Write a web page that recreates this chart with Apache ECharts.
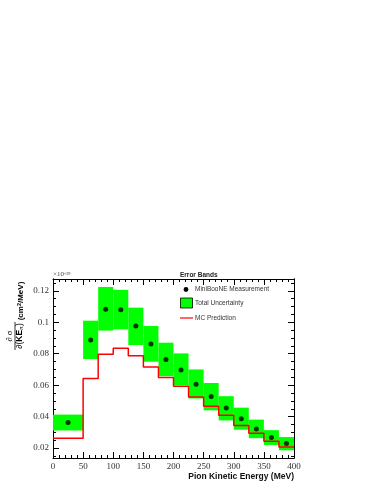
<!DOCTYPE html>
<html>
<head>
<meta charset="utf-8">
<script src="https://cdn.jsdelivr.net/npm/echarts@6/dist/echarts.min.js"></script>
<style>
  html, body { margin: 0; padding: 0; background: #fff; }
  #chart { width: 383px; height: 495px; }
</style>
</head>
<body>
<div id="chart"></div>
<script>
// bin edges (MeV) and values in units of 1e-39 cm^2/MeV
var binEdges = [0, 50, 75, 100, 125, 150, 175, 200, 225, 250, 275, 300, 325, 350, 375, 400];
var measured = [0.0363, 0.0887, 0.1083, 0.1080, 0.0976, 0.0862, 0.0764, 0.0697, 0.0606, 0.0528, 0.0455, 0.0387, 0.0321, 0.0268, 0.0229];
var errTop = [0.0413, 0.1010, 0.1224, 0.1206, 0.1093, 0.0976, 0.0870, 0.0802, 0.0700, 0.0614, 0.0530, 0.0457, 0.0381, 0.0314, 0.0270];
var errBottom = [0.0312, 0.0766, 0.0947, 0.0955, 0.0855, 0.0749, 0.0657, 0.0600, 0.0515, 0.0440, 0.0376, 0.0317, 0.0263, 0.0220, 0.0186];
var mcPrediction = [0.0263, 0.0642, 0.0796, 0.0834, 0.0787, 0.0715, 0.0649, 0.0593, 0.0525, 0.0466, 0.0408, 0.0344, 0.0295, 0.0244, 0.0207];

// tick values for the y axis
var yTickValues = [0.02, 0.04, 0.06, 0.08, 0.1, 0.12];
var yMinorValues = [0.015, 0.025, 0.03, 0.035, 0.045, 0.05, 0.055, 0.065, 0.07, 0.075,
                    0.085, 0.09, 0.095, 0.105, 0.11, 0.115, 0.125];

var yMin = 0.0137, yMax = 0.1275;

// build series data from the arrays
var boxData = [], pointData = [], mcData = [];
for (var i = 0; i < measured.length; i++) {
  boxData.push([binEdges[i], binEdges[i + 1], errBottom[i], errTop[i]]);
  pointData.push([(binEdges[i] + binEdges[i + 1]) / 2, measured[i]]);
  mcData.push([binEdges[i], mcPrediction[i]]);
}
mcData.push([binEdges[binEdges.length - 1], mcPrediction[mcPrediction.length - 1]]);

var chart = echarts.init(document.getElementById('chart'));

var serif = '"Liberation Serif", "DejaVu Serif", serif';
var sans = '"Liberation Sans", Arial, sans-serif';

function yAxisDef(position, values, len, withLabel) {
  return {
    type: 'value', position: position, min: yMin, max: yMax,
    axisLine: { show: true, onZero: false, lineStyle: { color: '#000', width: 1 } },
    axisTick: { show: true, inside: true, length: len, customValues: values, lineStyle: { color: '#000' } },
    axisLabel: withLabel ? {
      show: true, customValues: values, margin: 4,
      fontFamily: serif, fontSize: 9, color: '#333',
      formatter: function (v) { return String(+v.toFixed(3)); }
    } : { show: false },
    splitLine: { show: false }
  };
}

function xAxisDef(position, withLabel) {
  return {
    type: 'value', position: position, min: 0, max: 400, interval: 50,
    axisLine: { show: true, onZero: false, lineStyle: { color: '#000', width: 1 } },
    axisTick: { show: true, inside: true, length: 6, lineStyle: { color: '#000' } },
    minorTick: { show: true, splitNumber: 5, length: 3, lineStyle: { color: '#000' } },
    axisLabel: withLabel ? { show: true, margin: 4, fontFamily: serif, fontSize: 9, color: '#333' } : { show: false },
    splitLine: { show: false },
    minorSplitLine: { show: false }
  };
}

var xBottom = xAxisDef('bottom', true);
xBottom.name = 'Pion Kinetic Energy (MeV)';
xBottom.nameLocation = 'end';
xBottom.nameGap = 0;
xBottom.nameTextStyle = {
  fontFamily: sans, fontWeight: 'bold', fontSize: 8.5, color: '#111',
  align: 'right', verticalAlign: 'top', padding: [14, 0, 0, 0]
};

var option = {
  animation: false,
  backgroundColor: '#fff',
  grid: { left: 53, right: 89, top: 279, bottom: 37, containLabel: false, outerBoundsMode: 'none' },
  xAxis: [xBottom, xAxisDef('top', false)],
  yAxis: [
    yAxisDef('left', yTickValues, 6, true),
    yAxisDef('left', yMinorValues, 3, false),
    yAxisDef('right', yTickValues, 6, false),
    yAxisDef('right', yMinorValues, 3, false)
  ],
  series: [
    {
      name: 'Total Uncertainty', type: 'custom', xAxisIndex: 0, yAxisIndex: 0,
      encode: { x: [0, 1], y: [2, 3] },
      data: boxData, z: 2,
      renderItem: function (params, api) {
        var p1 = api.coord([api.value(0), api.value(3)]);
        var p2 = api.coord([api.value(1), api.value(2)]);
        return {
          type: 'rect',
          shape: { x: p1[0], y: p1[1], width: p2[0] - p1[0], height: p2[1] - p1[1] },
          style: { fill: '#00ff00', stroke: 'none', lineWidth: 0 }
        };
      }
    },
    {
      name: 'MC Prediction', type: 'line', xAxisIndex: 0, yAxisIndex: 0,
      step: 'end', data: mcData, symbol: 'none', z: 3,
      lineStyle: { color: '#ff0000', width: 1.5 }
    },
    {
      name: 'MiniBooNE Measurement', type: 'scatter', xAxisIndex: 0, yAxisIndex: 0,
      data: pointData, symbol: 'circle', symbolSize: 5, z: 4,
      itemStyle: { color: '#000' }
    }
  ],
  graphic: [
    // x10^-39 exponent
    {
      type: 'text', x: 53, y: 278, z: 100,
      style: {
        text: '{a|\u00d710}{s|-39}',
        verticalAlign: 'bottom',
        rich: {
          a: { fontFamily: serif, fontSize: 7, fill: '#444' },
          s: { fontFamily: serif, fontSize: 5, fill: '#444', verticalAlign: 'top' }
        }
      }
    },
    // y axis title as a rotated fraction
    {
      type: 'group', x: 15, y: 336, rotation: Math.PI / 2, z: 100,
      children: [
        { type: 'line', shape: { x1: -14, y1: 0, x2: 14, y2: 0 }, style: { stroke: '#000', lineWidth: 0.8 } },
        {
          type: 'text', x: 0, y: -1,
          style: { text: '\u2202 \u03c3', font: '8.5px ' + serif, fill: '#000', align: 'center', verticalAlign: 'bottom' }
        },
        {
          type: 'text', x: 0, y: 0.5,
          style: {
            text: '{a|\u2202(}{b|KE}{s|\u03c0}{a|)}', align: 'center', verticalAlign: 'top',
            rich: {
              a: { fontFamily: sans, fontSize: 8.5, fill: '#000' },
              b: { fontFamily: sans, fontSize: 8.5, fontWeight: 'bold', fill: '#000' },
              s: { fontFamily: sans, fontSize: 5.5, fill: '#000', verticalAlign: 'bottom' }
            }
          }
        },
        {
          type: 'text', x: 35, y: 5.5,
          style: {
            text: '{a|(cm}{s|2}{a|/MeV)}', align: 'center', verticalAlign: 'middle',
            rich: {
              a: { fontFamily: sans, fontSize: 8, fontWeight: 'bold', fill: '#000' },
              s: { fontFamily: sans, fontSize: 5.5, fontWeight: 'bold', fill: '#000', verticalAlign: 'top' }
            }
          }
        }
      ]
    },
    // legend box
    {
      type: 'group', z: 100,
      children: [
        { type: 'rect', shape: { x: 175, y: 265, width: 73, height: 63 }, style: { fill: '#fff' } },
        { type: 'text', x: 180, y: 275, style: { text: 'Error Bands', font: 'bold 6.5px ' + sans, fill: '#222', verticalAlign: 'middle' } },
        { type: 'circle', shape: { cx: 186, cy: 289.5, r: 2.4 }, style: { fill: '#000' } },
        { type: 'text', x: 195, y: 289.5, style: { text: 'MiniBooNE Measurement', font: '6.5px ' + sans, fill: '#333', verticalAlign: 'middle' } },
        { type: 'rect', shape: { x: 180.5, y: 298, width: 12, height: 10 }, style: { fill: '#00ff00', stroke: '#000', lineWidth: 0.8 } },
        { type: 'text', x: 195, y: 303, style: { text: 'Total Uncertainty', font: '6.5px ' + sans, fill: '#333', verticalAlign: 'middle' } },
        { type: 'line', shape: { x1: 180, y1: 318, x2: 193, y2: 318 }, style: { stroke: '#ff0000', lineWidth: 1.2 } },
        { type: 'text', x: 195, y: 318, style: { text: 'MC Prediction', font: '6.5px ' + sans, fill: '#333', verticalAlign: 'middle' } }
      ]
    }
  ]
};

chart.setOption(option);
</script>
</body>
</html>
